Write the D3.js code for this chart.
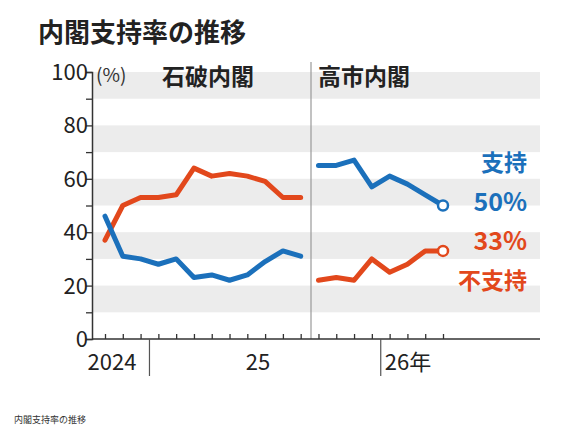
<!DOCTYPE html><html><head><meta charset="utf-8"><script src="https://cdn.jsdelivr.net/npm/d3@7"></script>
<style>body{margin:0;background:#fff}text{font-family:"Noto Sans CJK JP",sans-serif}</style></head><body><svg id="c" width="576" height="430"></svg>
<script>
const months = d3.range(20); // Oct 2024 .. May 2026
const ishibaSupport = [46,31,30,28,30,23,24,22,24,29,33,31];
const ishibaDisapprove = [37,50,53,53,54,64,61,62,61,59,53,53];
const takaichiSupport = [65,65,67,57,61,58,54,50];
const takaichiDisapprove = [22,23,22,30,25,28,33,33];
const yTicks = [0,20,40,60,80,100];
const blue="#1b70bb", red="#e2481c";
const svg=d3.select("#c");
const x=d3.scaleLinear().domain([0,19]).range([105,443]);
const y=d3.scaleLinear().domain([0,100]).range([339,72]);
// bands
[10,30,50,70,90].forEach(v=>svg.append("rect").attr("x",93).attr("width",447).attr("y",y(v+10)).attr("height",y(v)-y(v+10)).attr("fill","#ececec"));
svg.append("line").attr("x1",311).attr("x2",311).attr("y1",62).attr("y2",339).attr("stroke","#999").attr("stroke-width",1.2);
// axes
svg.append("g").attr("transform","translate(92,0)").call(d3.axisLeft(y).tickValues(d3.range(0,101,10)).tickSize(6).tickFormat(""))
 .call(g=>{g.select(".domain").attr("stroke","#333").attr("stroke-width",1.5);g.selectAll("line").attr("stroke","#333").attr("stroke-width",1.3)});
yTicks.forEach(v=>svg.append("text").attr("x",88).attr("y",y(v)+8).attr("text-anchor","end").attr("font-size",22).attr("font-family","DejaVu Sans Condensed, sans-serif").attr("fill","#222").text(v));
svg.append("g").attr("transform","translate(0,339)").call(d3.axisTop(x).tickValues(months).tickSize(5).tickFormat(""))
 .call(g=>{g.select(".domain").remove();g.selectAll("line").attr("stroke","#333").attr("stroke-width",1.3)});
svg.append("line").attr("x1",92).attr("x2",540).attr("y1",339).attr("y2",339).attr("stroke","#333").attr("stroke-width",1.5);
[2.5,15.5].forEach(m=>svg.append("line").attr("x1",x(m)).attr("x2",x(m)).attr("y1",339).attr("y2",376).attr("stroke","#555").attr("stroke-width",1.2));
[["2024",112],["25",258],["26年",408]].forEach(([t,px])=>svg.append("text").attr("x",px).attr("y",370).attr("text-anchor","middle").attr("font-size",22).attr("fill","#222").text(t));
// lines
const line=d3.line().x(d=>x(d[0])).y(d=>y(d[1]));
function draw(vals,off,col,end){
  svg.append("path").datum(vals.map((v,i)=>[i+off,v])).attr("d",line).attr("fill","none").attr("stroke",col).attr("stroke-width",5).attr("stroke-linejoin","round").attr("stroke-linecap","round");
  if(end) svg.append("circle").attr("cx",x(off+vals.length-1)).attr("cy",y(vals[vals.length-1])).attr("r",5).attr("fill","#fff").attr("stroke",col).attr("stroke-width",2.5);
}
draw(ishibaDisapprove,0,red,false);draw(ishibaSupport,0,blue,false);
draw(takaichiSupport,12,blue,true);draw(takaichiDisapprove,12,red,true);
// texts
const T=(t,px,py,s,c,w,a)=>svg.append("text").attr("x",px).attr("y",py).attr("font-size",s).attr("fill",c).attr("font-weight",w).attr("text-anchor",a||"start").text(t);
T("内閣支持率の推移",38,42,26,"#222","bold");
T("(%)",96,82,19,"#333","normal");
T("石破内閣",162,85,23,"#222","bold");
T("高市内閣",318,85,23,"#222","bold");
T("支持",527,171,23,blue,"bold","end");
T("50%",527,211,25,blue,"bold","end");
T("33%",527,250,25,red,"bold","end");
T("不支持",527,289,23,red,"bold","end");
T("内閣支持率の推移",14,423,9,"#333","normal");
</script></body></html>
